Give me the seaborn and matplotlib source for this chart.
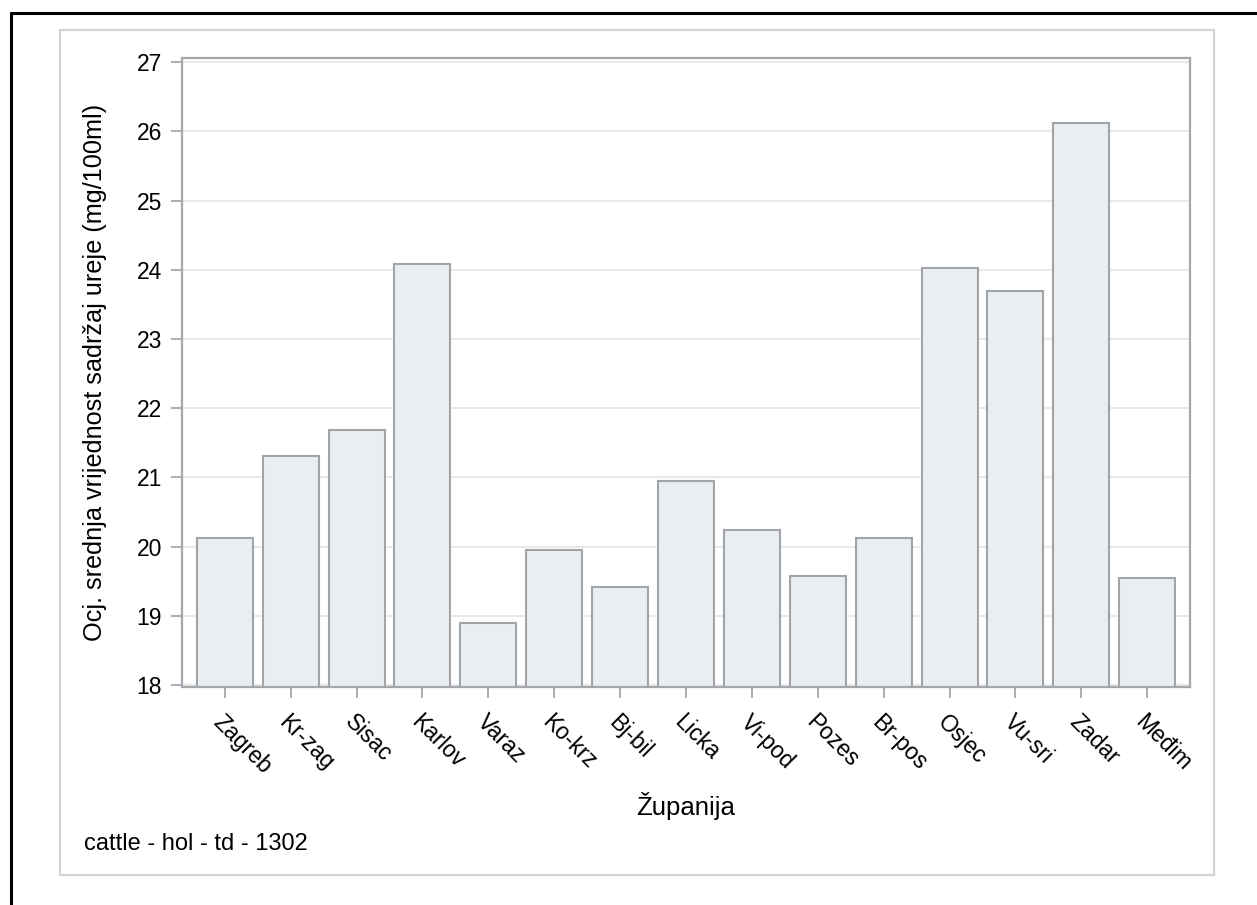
import pandas as pd
import matplotlib
matplotlib.use("Agg")
import matplotlib.pyplot as plt
from matplotlib.patches import Rectangle
from matplotlib.lines import Line2D
import seaborn as sns

# Data
zupanije = ['Zagreb', 'Kr-zag', 'Sisac', 'Karlov', 'Varaz', 'Ko-krz', 'Bj-bil', 'Licka',
            'Vi-pod', 'Pozes', 'Br-pos', 'Osjec', 'Vu-sri', 'Zadar', 'Međim']
urea = [20.12, 21.31, 21.68, 24.09, 18.89, 19.95, 19.41, 20.94,
        20.24, 19.57, 20.12, 24.02, 23.70, 26.12, 19.55]
y_ticks = [18, 19, 20, 21, 22, 23, 24, 25, 26, 27]

df = pd.DataFrame({'Županija': zupanije, 'urea': urea})

sns.set_theme(style="white")
plt.rcParams.update({
    'font.family': ['Liberation Sans', 'DejaVu Sans'],
    'text.color': '#000000',
    'axes.labelcolor': '#000000',
    'xtick.color': '#000000',
    'ytick.color': '#000000',
})

fig = plt.figure(figsize=(12.57, 9.05), dpi=100)
ax = fig.add_axes([0.1448, 0.2409, 0.8019, 0.6950])

axis_grey = '#A4A8AC'
sns.barplot(data=df, x='Županija', y='urea', color='#EAEDF2',
            edgecolor='#A2A5A8', linewidth=1.5, width=0.85,
            saturation=1, ax=ax, zorder=2)

ax.set_xlim(-0.65, len(zupanije) - 0.35)
ax.set_ylim(17.97, 27.06)
ax.set_yticks(y_ticks)
ax.yaxis.grid(True, color='#E9E9E9', linewidth=1.5, zorder=0)
ax.set_axisbelow(True)

for s in ax.spines.values():
    s.set_visible(True)
    s.set_color(axis_grey)
    s.set_linewidth(1.6)

ax.tick_params(axis='both', which='major', direction='out', length=8, width=1.3,
               color=axis_grey, labelsize=16.5)
ax.tick_params(axis='y', pad=6.5)
ax.tick_params(axis='x', pad=9)
ax.tick_params(left=True, bottom=True)
for lbl in ax.get_xticklabels():
    lbl.set_rotation(-45)
    lbl.set_ha('left')
    lbl.set_va('top')
    lbl.set_rotation_mode('anchor')

ax.set_xlabel('Županija', fontsize=18.5, va='top')
ax.xaxis.set_label_coords(0.5, -0.167)
ax.set_ylabel('Ocj. srednja vrijednost sadržaj ureje (mg/100ml)', fontsize=18.2)
ax.yaxis.set_label_coords(-0.0744, 0.5)

# footnote
fig.text(84 / 1257, 1 - 844 / 905, 'cattle - hol - td - 1302', fontsize=17,
         ha='left', va='center')

# light grey frame around the graph
fig.patches.append(Rectangle((60 / 1257, 1 - 875 / 905), (1214 - 60) / 1257, (875 - 30) / 905,
                             transform=fig.transFigure, fill=False,
                             edgecolor='#D4D4D4', linewidth=1.6))
# black outer border (top and left only visible)
fig.lines.append(Line2D([11 / 1257, 1.0], [1 - 13 / 905, 1 - 13 / 905],
                        transform=fig.transFigure, color='black', linewidth=2.2))
fig.lines.append(Line2D([11 / 1257, 11 / 1257], [0.0, 1 - 13 / 905],
                        transform=fig.transFigure, color='black', linewidth=2.2))

fig.savefig('out.png', dpi=100, facecolor='white')
